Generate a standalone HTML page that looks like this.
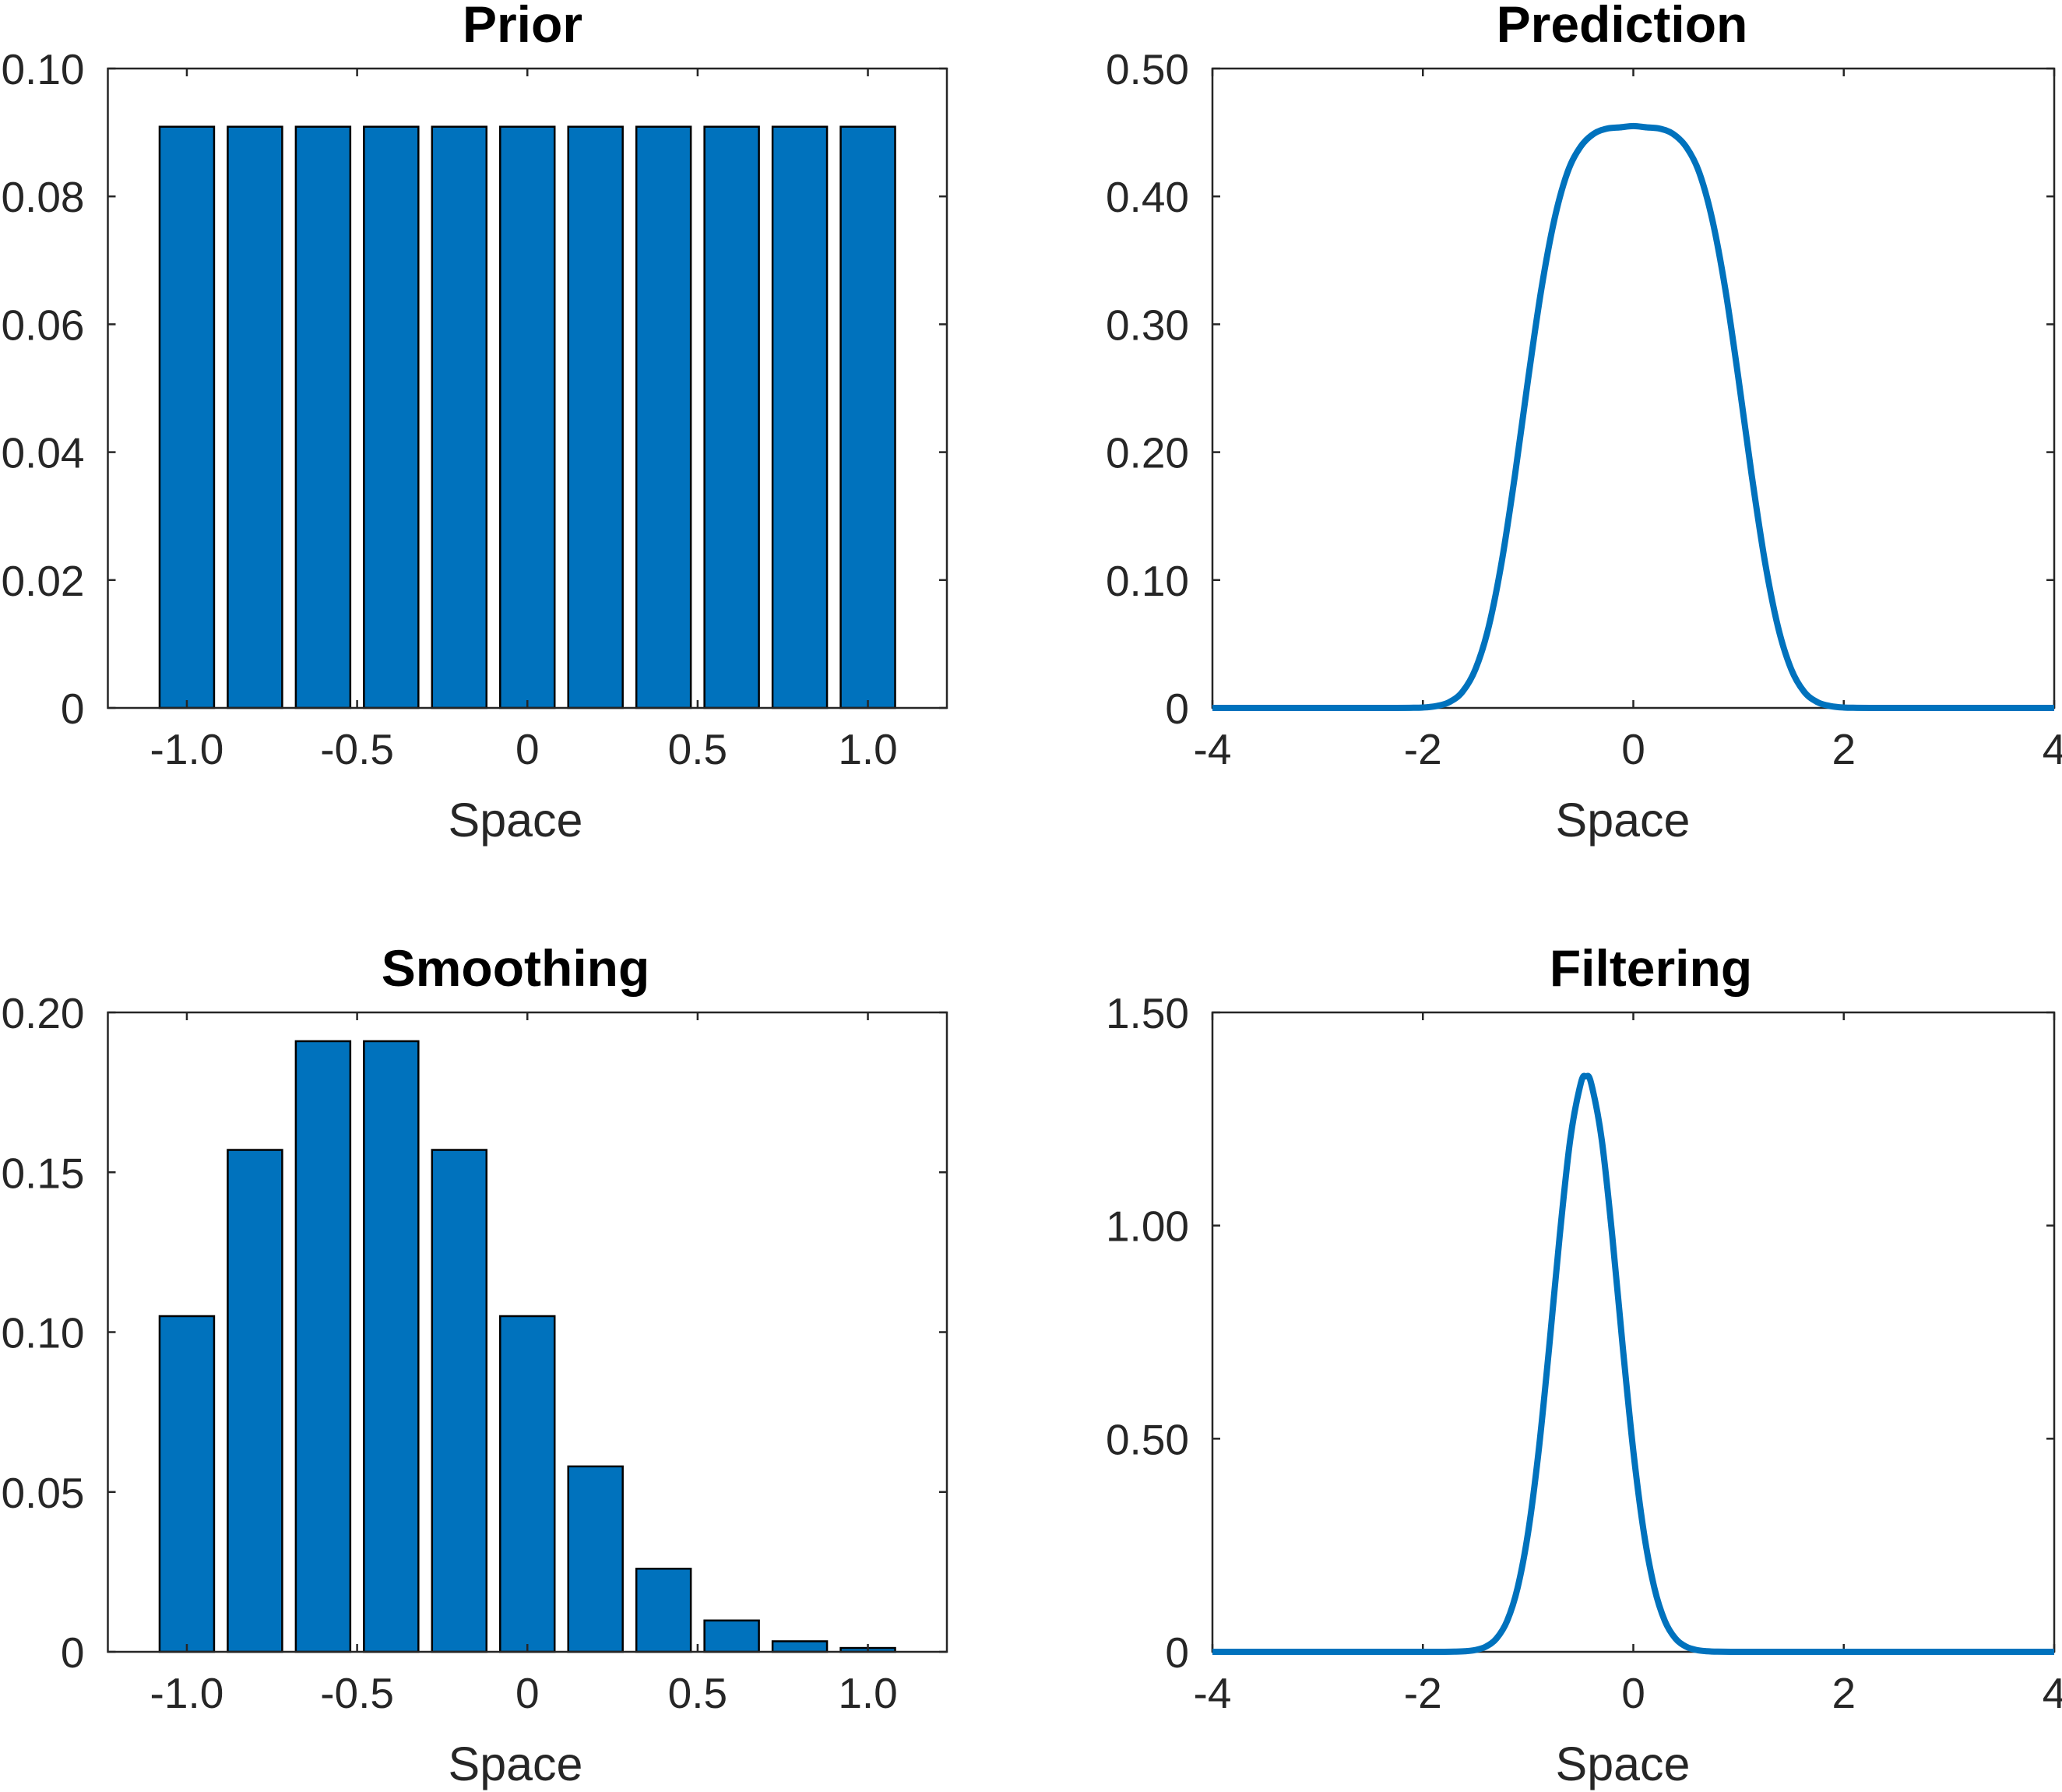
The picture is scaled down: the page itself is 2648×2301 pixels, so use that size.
<!DOCTYPE html>
<html><head><meta charset="utf-8"><style>
html,body{margin:0;padding:0;background:#fff;}
svg{display:block;font-family:"Liberation Sans",Arial,sans-serif;}
</style></head><body>
<svg id="fig" width="2648" height="2301" viewBox="0 0 2648 2301" xmlns="http://www.w3.org/2000/svg"></svg>
<script>
// ---- data ----
const barX = [-1.0,-0.8,-0.6,-0.4,-0.2,0,0.2,0.4,0.6,0.8,1.0];
const priorVals = [0.0909,0.0909,0.0909,0.0909,0.0909,0.0909,0.0909,0.0909,0.0909,0.0909,0.0909];
const smoothVals = [0.105,0.157,0.191,0.191,0.157,0.105,0.058,0.026,0.0098,0.0033,0.0012];
const barTicks = [-1.0,-0.5,0,0.5,1.0];
const barTickLabels = ["-1.0","-0.5","0","0.5","1.0"];
const priorYTicks = [0,0.02,0.04,0.06,0.08,0.10];
const priorYLabels = ["0","0.02","0.04","0.06","0.08","0.10"];
const smoothYTicks = [0,0.05,0.10,0.15,0.20];
const smoothYLabels = ["0","0.05","0.10","0.15","0.20"];
const predX = [-4,-2.5,-2.375,-2.25,-2.125,-2.0,-1.875,-1.75,-1.625,-1.5,-1.375,-1.25,-1.125,-1.0,-0.875,-0.75,-0.625,-0.5,-0.375,-0.25,-0.125,0,0.125,0.25,0.375,0.5,0.625,0.75,0.875,1.0,1.125,1.25,1.375,1.5,1.625,1.75,1.875,2.0,2.125,2.25,2.375,2.5,4];
const predY = [0,0,0,0,0.0001,0.0003,0.0014,0.0045,0.0125,0.0304,0.0633,0.1147,0.182,0.257,0.327,0.382,0.419,0.439,0.449,0.453,0.454,0.455,0.454,0.453,0.449,0.439,0.419,0.382,0.327,0.257,0.182,0.1147,0.0633,0.0304,0.0125,0.0045,0.0014,0.0003,0.0001,0,0,0,0];
const filtX = [-4,-2,-1.8,-1.7,-1.6,-1.5,-1.4,-1.3,-1.2,-1.1,-1.0,-0.9,-0.8,-0.7,-0.6,-0.5,-0.45,-0.4,-0.3,-0.2,-0.1,0,0.1,0.2,0.3,0.4,0.5,0.6,0.7,0.8,1.0,1.2,4];
const filtY = [0,0,0.0001,0.0004,0.0014,0.0043,0.0123,0.0314,0.0722,0.150,0.280,0.471,0.714,0.975,1.201,1.333,1.35,1.333,1.201,0.975,0.714,0.471,0.280,0.150,0.0722,0.0314,0.0123,0.0043,0.0014,0.0004,0,0,0];
const lineXTicks = [-4,-2,0,2,4];
const lineXLabels = ["-4","-2","0","2","4"];
const predYTicks = [0,0.1,0.2,0.3,0.4,0.5];
const predYLabels = ["0","0.10","0.20","0.30","0.40","0.50"];
const filtYTicks = [0,0.5,1.0,1.5];
const filtYLabels = ["0","0.50","1.00","1.50"];

const NS="http://www.w3.org/2000/svg";
const svg=document.getElementById('fig');
function mk(tag,attrs,parent){const e=document.createElementNS(NS,tag);for(const k in attrs)e.setAttribute(k,attrs[k]);(parent||svg).appendChild(e);return e;}

function axes(o){
  const g=mk('g',{});
  
  
  const sx=v=>o.L+(v-o.xmin)/(o.xmax-o.xmin)*(o.R-o.L);
  const sy=v=>o.B-(v-o.ymin)/(o.ymax-o.ymin)*(o.B-o.T);
  return {g,sx,sy};
}
function frame(o,a){
  const g=a.g,TL=10,col="#262626";
  o.xt.forEach((v,i)=>{const x=a.sx(v);
    mk('line',{x1:x,y1:o.B,x2:x,y2:o.B-TL,stroke:col,'stroke-width':2.5},g);
    mk('line',{x1:x,y1:o.T,x2:x,y2:o.T+TL,stroke:col,'stroke-width':2.5},g);
    const t=mk('text',{x:x,y:o.B+72,'text-anchor':'middle','font-size':55,fill:col},g);t.textContent=o.xl[i];
    
    
  });
  o.yt.forEach((v,i)=>{const y=a.sy(v);
    mk('line',{x1:o.L,y1:y,x2:o.L+TL,y2:y,stroke:col,'stroke-width':2.5},g);
    mk('line',{x1:o.R,y1:y,x2:o.R-TL,y2:y,stroke:col,'stroke-width':2.5},g);
    const t=mk('text',{x:o.L-30,y:y+20,'text-anchor':'end','font-size':55,fill:col},g);t.textContent=o.yl[i];
    
    
  });
  mk('rect',{x:o.L,y:o.T,width:o.R-o.L,height:o.B-o.T,fill:'none',stroke:col,'stroke-width':2.5},g);
  const tt=mk('text',{x:o.tx,y:o.T-34,'text-anchor':'middle','font-size':66,'font-weight':'bold',fill:'#000'},g);tt.textContent=o.title;
  
  
  const xl=mk('text',{x:o.lx,y:o.B+165,'text-anchor':'middle','font-size':61,fill:col},g);xl.textContent='Space';
  
  
}
function barChart(o,vals){
  const a=axes(o);
  vals.forEach((v,i)=>{
    const x0=a.sx(barX[i]-0.08),x1=a.sx(barX[i]+0.08),y=a.sy(v),y0=a.sy(0);
    const r=mk('rect',{x:x0,y:y,width:x1-x0,height:y0-y,fill:'#0072BD',stroke:'#000','stroke-width':2.5},a.g);
    
    
  });
  frame(o,a);
}
function lineChart(o,xs,ys){
  const a=axes(o);
  const P=xs.map((x,i)=>[a.sx(x),a.sy(ys[i])]);
  let d='M'+P[0][0]+','+P[0][1];
  for(let i=0;i<P.length-1;i++){
    const p0=P[Math.max(0,i-1)],p1=P[i],p2=P[i+1],p3=P[Math.min(P.length-1,i+2)];
    const c1=[p1[0]+(p2[0]-p0[0])/6,p1[1]+(p2[1]-p0[1])/6];
    const c2=[p2[0]-(p3[0]-p1[0])/6,p2[1]-(p3[1]-p1[1])/6];
    c1[0]=Math.min(Math.max(c1[0],p1[0]),p2[0]);c2[0]=Math.min(Math.max(c2[0],p1[0]),p2[0]);
    d+=' C'+c1[0]+','+c1[1]+' '+c2[0]+','+c2[1]+' '+p2[0]+','+p2[1];
  }
  frame(o,a);
  const p=mk('path',{d:d,fill:'none',stroke:'#0072BD','stroke-width':8,'stroke-linejoin':'round'},a.g);
  
  
}
const rowTop={T:88,B:909},rowBot={T:1300,B:2121};
const colL={L:138.5,R:1216},colR={L:1557,R:2638};
barChart(Object.assign({name:'prior-chart',xmin:-1.232,xmax:1.232,ymin:0,ymax:0.1,xt:barTicks,xl:barTickLabels,yt:priorYTicks,yl:priorYLabels,title:'Prior',tx:671,lx:662},colL,rowTop),priorVals);
lineChart(Object.assign({name:'prediction-chart',xmin:-4,xmax:4,ymin:0,ymax:0.5,xt:lineXTicks,xl:lineXLabels,yt:predYTicks,yl:predYLabels,title:'Prediction',tx:2083,lx:2084},colR,rowTop),predX,predY);
barChart(Object.assign({name:'smoothing-chart',xmin:-1.232,xmax:1.232,ymin:0,ymax:0.2,xt:barTicks,xl:barTickLabels,yt:smoothYTicks,yl:smoothYLabels,title:'Smoothing',tx:662,lx:662},colL,rowBot),smoothVals);
lineChart(Object.assign({name:'filtering-chart',xmin:-4,xmax:4,ymin:0,ymax:1.5,xt:lineXTicks,xl:lineXLabels,yt:filtYTicks,yl:filtYLabels,title:'Filtering',tx:2120,lx:2084},colR,rowBot),filtX,filtY);
</script>
</body></html>
